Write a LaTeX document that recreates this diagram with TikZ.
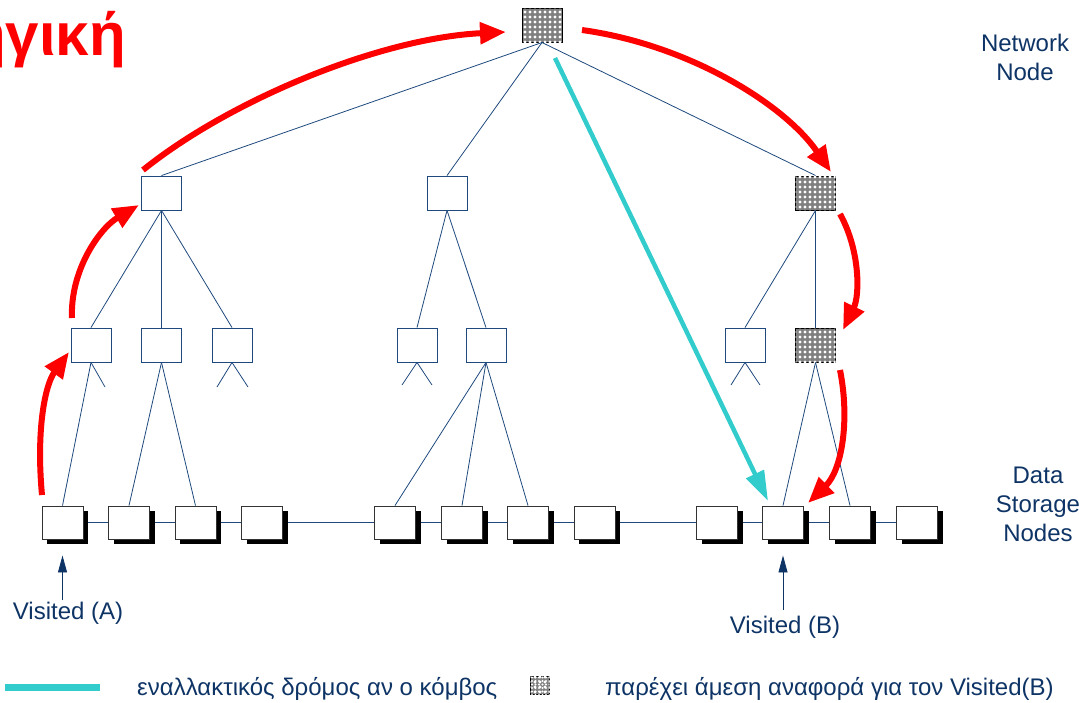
\documentclass[tikz,border=0pt]{standalone}
\usepackage{fontspec}
\setmainfont{Liberation Sans}
\usetikzlibrary{arrows.meta,shadows,patterns.meta}
\pgfdeclarelayer{background}
\pgfsetlayers{background,main}

\definecolor{navy}{RGB}{14,52,102}
\definecolor{linkblue}{RGB}{31,73,125}
\definecolor{altpath}{RGB}{51,204,204}
\definecolor{hot}{RGB}{255,0,0}

\tikzset{
  treebox/.style={draw=linkblue, line width=0.9pt, fill=white,
    minimum width=40pt, minimum height=34pt, inner sep=0pt},
  refbox/.style={draw=black, line width=1pt, fill=black!50,
    minimum width=40pt, minimum height=34pt, inner sep=0pt,
    postaction={pattern={Dots[radius=1.6pt,distance=5pt]}, pattern color=white}},
  storebox/.style={draw=black!80, line width=0.9pt, fill=white,
    minimum width=41pt, minimum height=33pt, inner sep=0pt,
    drop shadow={shadow xshift=5pt, shadow yshift=-5pt, fill=black, opacity=1}},
  link/.style={draw=linkblue, line width=0.8pt},
  hotarrow/.style={draw=hot, line width=6pt, -{Triangle[length=26pt,width=21pt]}},
  altarrow/.style={draw=altpath, line width=4.5pt, -{Triangle[length=30pt,width=19pt]}},
  pointer/.style={draw=navy, line width=0.9pt, -{Triangle[length=17pt,width=9pt]}},
  caption/.style={text=navy, font=\fontsize{24}{29}\selectfont, inner sep=0pt, align=center},
}

\begin{document}
\begin{tikzpicture}[x=1pt, y=-1pt]
\useasboundingbox (0,0) rectangle (1079,702);

% heading, partly cut off at the left edge
\node[anchor=base east, text=hot, font=\bfseries\fontsize{60}{62}\selectfont, inner sep=0pt] (title) at (126,55) {ηγική};

% network nodes
\node[refbox]  (top) at (542,25) {};
\node[treebox] (a1) at (161.5,193) {};
\node[treebox] (a2) at (447,193) {};
\node[refbox]  (a3) at (815.5,193) {};

\node[treebox] (b1) at (91,345) {};
\node[treebox] (b2) at (161.5,345) {};
\node[treebox] (b3) at (232,345) {};
\node[treebox] (b4) at (417,345) {};
\node[treebox] (b5) at (486,345) {};
\node[treebox] (b6) at (745,345) {};
\node[refbox]  (b7) at (815.5,345) {};

% data storage nodes
\foreach \i/\x in {1/62.5,2/129,3/195.5,4/262,5/395,6/462,7/528,8/594.5,9/717,10/783,11/850,12/917}
  \node[storebox] (d\i) at (\x,522.5) {};

% open branches below the second level
\coordinate (s1) at (105,387);
\coordinate (s2) at (217,387);
\coordinate (s3) at (248,387);
\coordinate (s4) at (402,385);
\coordinate (s5) at (432,385);
\coordinate (s6) at (731,385);
\coordinate (s7) at (760,385);

\begin{pgfonlayer}{background}
  % chain of storage nodes
  \draw[link] (d1) -- (d2) -- (d3) -- (d4) -- (d5) -- (d6) -- (d7) -- (d8) -- (d9) -- (d10) -- (d11) -- (d12);
\end{pgfonlayer}

% tree links
\draw[link] (top.south) -- (a1.north);
\draw[link] (top.south) -- (a2.north);
\draw[link] (top.south) -- (a3.north);
\draw[link] (a1.south) -- (b1.north);
\draw[link] (a1.south) -- (b2.north);
\draw[link] (a1.south) -- (b3.north);
\draw[link] (a2.south) -- (b4.north);
\draw[link] (a2.south) -- (b5.north);
\draw[link] (a3.south) -- (b6.north);
\draw[link] (a3.south) -- (b7.north);
\draw[link] (b1.south) -- (d1.north);
\draw[link] (b1.south) -- (s1);
\draw[link] (b2.south) -- (d2.north);
\draw[link] (b2.south) -- (d3.north);
\draw[link] (b3.south) -- (s2);
\draw[link] (b3.south) -- (s3);
\draw[link] (b4.south) -- (s4);
\draw[link] (b4.south) -- (s5);
\draw[link] (b5.south) -- (d5.north);
\draw[link] (b5.south) -- (d6.north);
\draw[link] (b5.south) -- (d7.north);
\draw[link] (b6.south) -- (s6);
\draw[link] (b6.south) -- (s7);
\draw[link] (b7.south) -- (d10.north);
\draw[link] (b7.south) -- (d11.north);

% lookup route from Visited (A) up to the root and down towards Visited (B)
\coordinate (r1a) at (42,495);
\coordinate (r1b) at (69,352);
\coordinate (r2a) at (72,318);
\coordinate (r2b) at (139,205);
\coordinate (r3a) at (143,170);
\coordinate (r3b) at (506,32);
\coordinate (r4a) at (582,30);
\coordinate (r4b) at (831,172);
\coordinate (r5a) at (840,214);
\coordinate (r5b) at (843,330);
\coordinate (r6a) at (840,370);
\coordinate (r6b) at (808,503);
\draw[hotarrow] (r1a) .. controls (36,430) and (45,385) .. (r1b);
\draw[hotarrow] (r2a) .. controls (70,270) and (100,228) .. (r2b);
\draw[hotarrow] (r3a) .. controls (230,100) and (380,38) .. (r3b);
\draw[hotarrow] (r4a) .. controls (690,45) and (785,105) .. (r4b);
\draw[hotarrow] (r5a) .. controls (860,250) and (860,295) .. (r5b);
\draw[hotarrow] (r6a) .. controls (850,420) and (842,470) .. (r6b);

% alternative route
\coordinate (alt0) at (555,58);
\coordinate (alt1) at (768,501);
\draw[altarrow] (alt0) -- (alt1);

% side captions
\node[caption] (netlabel) at (1025,57) {Network\\Node};
\node[caption] (datalabel) at (1038,504) {Data\\Storage\\Nodes};

% visited markers
\node[caption] (va) at (68,613) {Visited (A)};
\node[caption] (vb) at (785,627) {Visited (B)};
\coordinate (vaBase) at (62.5,600);
\coordinate (vbBase) at (783,610);
\draw[pointer, shorten >=16pt] (vaBase) -- (d1.south);
\draw[pointer, shorten >=16pt] (vbBase) -- (d10.south);

% legend
\coordinate (lg0) at (5,687);
\coordinate (lg1) at (100,687);
\draw[draw=altpath, line width=7pt] (lg0) -- (lg1);
\node[caption, anchor=west] (lgtext1) at (137,689) {εναλλακτικός δρόμος αν ο κόμβος};
\node[refbox, minimum width=19pt, minimum height=18pt, line width=0.6pt,
  postaction={pattern={Dots[radius=1.1pt,distance=3.5pt]}, pattern color=white}] (lgbox) at (540,685) {};
\node[caption, anchor=west] (lgtext2) at (605,689) {παρέχει άμεση αναφορά για τον Visited(B)};
\end{tikzpicture}
\end{document}
